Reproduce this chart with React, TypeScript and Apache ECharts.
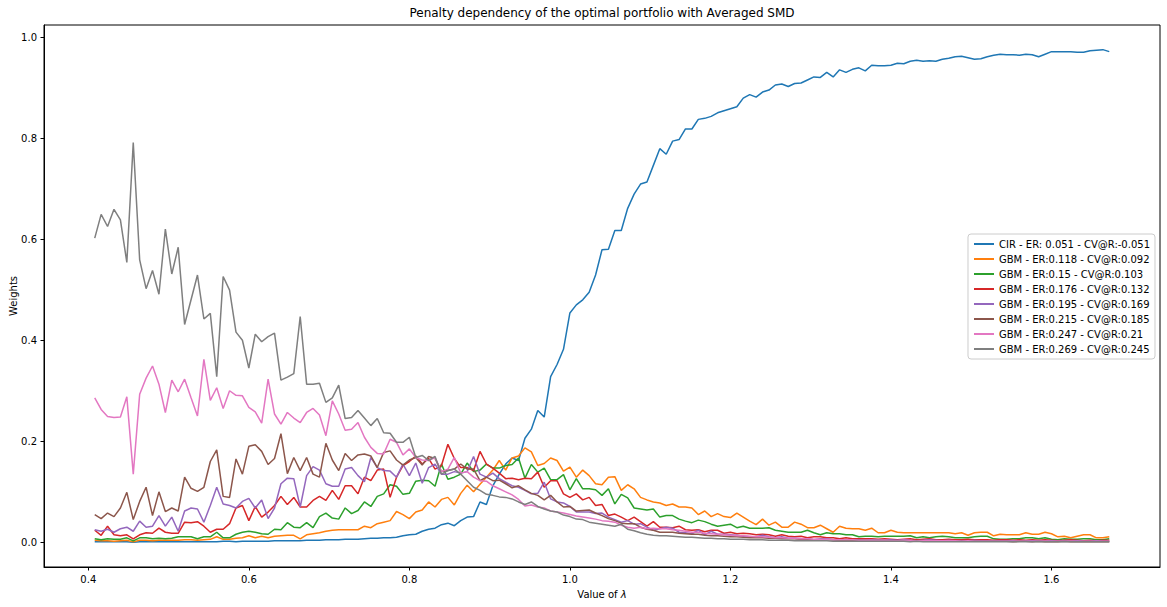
import React, { useEffect, useRef } from "react";
import * as echarts from "echarts";

// Grid of penalty values (lambda): evenly spaced from 0.408 to 1.672, step 0.008
const LAMBDA_START = 0.408;
const LAMBDA_STEP = 0.008;
const N_POINTS = 159;
const LAMBDA: number[] = Array.from({ length: N_POINTS }, (_, i) =>
  Number((LAMBDA_START + LAMBDA_STEP * i).toFixed(3))
);

const X_TICKS = [0.4, 0.6, 0.8, 1.0, 1.2, 1.4, 1.6];
const Y_TICKS = [0.0, 0.2, 0.4, 0.6, 0.8, 1.0];

const SERIES_NAMES = [
  "CIR - ER: 0.051 - CV@R:-0.051",
  "GBM - ER:0.118 - CV@R:0.092",
  "GBM - ER:0.15 - CV@R:0.103",
  "GBM - ER:0.176 - CV@R:0.132",
  "GBM - ER:0.195 - CV@R:0.169",
  "GBM - ER:0.215 - CV@R:0.185",
  "GBM - ER:0.247 - CV@R:0.21",
  "GBM - ER:0.269 - CV@R:0.245",
];

const CIR_0051 = [
  0.001, 0.001, 0.001, 0.001, 0.001, 0.001, 0.0, 0.001, 0.001, 0.001,
  0.001, 0.001, 0.001, 0.001, 0.001, 0.001, 0.001, 0.001, 0.001, 0.001,
  0.002, 0.002, 0.001, 0.002, 0.002, 0.002, 0.002, 0.002, 0.003, 0.003,
  0.003, 0.003, 0.003, 0.004, 0.004, 0.004, 0.005, 0.005, 0.005, 0.006,
  0.006, 0.006, 0.007, 0.008, 0.008, 0.009, 0.009, 0.01, 0.013, 0.015,
  0.016, 0.022, 0.026, 0.028, 0.035, 0.038, 0.033, 0.043, 0.05, 0.051,
  0.08, 0.075, 0.112, 0.135, 0.155, 0.167, 0.162, 0.206, 0.224, 0.261,
  0.248, 0.328, 0.352, 0.382, 0.454, 0.47, 0.48, 0.495, 0.529, 0.579,
  0.58, 0.617, 0.617, 0.661, 0.689, 0.709, 0.713, 0.746, 0.779, 0.768,
  0.794, 0.797, 0.818, 0.818, 0.837, 0.839, 0.843, 0.85, 0.854, 0.858,
  0.862, 0.879, 0.886, 0.881, 0.891, 0.895, 0.905, 0.907, 0.902, 0.908,
  0.909, 0.915, 0.921, 0.92, 0.93, 0.921, 0.935, 0.93, 0.936, 0.939,
  0.933, 0.944, 0.943, 0.943, 0.944, 0.948, 0.947, 0.952, 0.954, 0.952,
  0.953, 0.952, 0.956, 0.958, 0.961, 0.962, 0.959, 0.956, 0.957, 0.961,
  0.964, 0.966, 0.965, 0.965, 0.964, 0.966, 0.965, 0.961, 0.966, 0.971,
  0.971, 0.971, 0.971, 0.97, 0.97, 0.973, 0.974, 0.975, 0.971,
];

const GBM_0118 = [
  0.004, 0.003, 0.003, 0.002, 0.003, 0.004, 0.001, 0.004, 0.004, 0.003,
  0.004, 0.004, 0.004, 0.004, 0.005, 0.005, 0.004, 0.005, 0.006, 0.011,
  0.006, 0.006, 0.008, 0.009, 0.013, 0.009, 0.012, 0.009, 0.012, 0.013,
  0.014, 0.014, 0.007, 0.015, 0.017, 0.019, 0.022, 0.024, 0.025, 0.025,
  0.025, 0.025, 0.032, 0.029, 0.037, 0.04, 0.043, 0.061, 0.055, 0.047,
  0.06, 0.064, 0.08, 0.07, 0.085, 0.089, 0.074, 0.097, 0.113, 0.1,
  0.115, 0.129, 0.143, 0.162, 0.143, 0.167, 0.171, 0.187, 0.179, 0.152,
  0.156, 0.167, 0.162, 0.141, 0.149, 0.129, 0.143, 0.132, 0.116, 0.114,
  0.129, 0.13, 0.103, 0.114, 0.106, 0.089, 0.084, 0.08, 0.078, 0.073,
  0.076, 0.07, 0.07, 0.068, 0.055, 0.062, 0.051, 0.057, 0.051, 0.049,
  0.058, 0.05, 0.042, 0.035, 0.046, 0.034, 0.04, 0.03, 0.03, 0.04,
  0.036, 0.029, 0.029, 0.034, 0.027, 0.02, 0.032, 0.028, 0.027, 0.027,
  0.024, 0.028, 0.019, 0.019, 0.024, 0.02, 0.019, 0.019, 0.019, 0.019,
  0.019, 0.019, 0.019, 0.019, 0.017, 0.019, 0.014, 0.019, 0.02, 0.02,
  0.013, 0.016, 0.015, 0.015, 0.015, 0.019, 0.016, 0.016, 0.02, 0.017,
  0.011, 0.012, 0.009, 0.012, 0.015, 0.015, 0.009, 0.009, 0.011,
];

const GBM_015 = [
  0.007, 0.005, 0.007, 0.006, 0.006, 0.009, 0.003, 0.009, 0.009, 0.007,
  0.008, 0.007, 0.008, 0.011, 0.011, 0.011, 0.007, 0.011, 0.011, 0.02,
  0.009, 0.009, 0.016, 0.02, 0.022, 0.02, 0.017, 0.016, 0.026, 0.025,
  0.039, 0.03, 0.029, 0.039, 0.029, 0.051, 0.058, 0.048, 0.046, 0.068,
  0.057, 0.063, 0.08, 0.071, 0.091, 0.096, 0.114, 0.111, 0.095, 0.097,
  0.121, 0.123, 0.122, 0.111, 0.155, 0.125, 0.129, 0.135, 0.157, 0.14,
  0.143, 0.155, 0.147, 0.147, 0.152, 0.154, 0.167, 0.127, 0.154, 0.139,
  0.147, 0.124, 0.124, 0.134, 0.104, 0.126, 0.106, 0.106, 0.104, 0.093,
  0.106, 0.076, 0.095, 0.088, 0.068, 0.066, 0.064, 0.066, 0.05, 0.053,
  0.053, 0.046, 0.042, 0.039, 0.044, 0.041, 0.036, 0.032, 0.034, 0.036,
  0.029, 0.032, 0.028, 0.028, 0.028, 0.029, 0.024, 0.022, 0.02, 0.02,
  0.02, 0.024, 0.019, 0.015, 0.019, 0.017, 0.017, 0.015, 0.015, 0.011,
  0.012, 0.012, 0.011, 0.012, 0.012, 0.012, 0.012, 0.013, 0.009, 0.011,
  0.009, 0.011, 0.012, 0.011, 0.009, 0.009, 0.009, 0.011, 0.012, 0.012,
  0.007, 0.006, 0.006, 0.007, 0.007, 0.009, 0.009, 0.007, 0.009, 0.006,
  0.005, 0.007, 0.006, 0.006, 0.007, 0.007, 0.005, 0.005, 0.007,
];

const GBM_0176 = [
  0.024, 0.014, 0.032, 0.015, 0.013, 0.015, 0.007, 0.015, 0.019, 0.018,
  0.028, 0.02, 0.018, 0.018, 0.04, 0.039, 0.041, 0.032, 0.02, 0.026,
  0.026, 0.037, 0.068, 0.073, 0.043, 0.071, 0.05, 0.06, 0.073, 0.091,
  0.075, 0.089, 0.07, 0.07, 0.083, 0.091, 0.083, 0.103, 0.085, 0.112,
  0.112, 0.096, 0.129, 0.122, 0.143, 0.145, 0.089, 0.129, 0.152, 0.16,
  0.171, 0.155, 0.166, 0.145, 0.152, 0.194, 0.166, 0.148, 0.148, 0.142,
  0.18, 0.155, 0.147, 0.137, 0.126, 0.127, 0.124, 0.127, 0.126, 0.139,
  0.109, 0.122, 0.122, 0.096, 0.089, 0.096, 0.084, 0.089, 0.073, 0.075,
  0.053, 0.056, 0.05, 0.043, 0.05, 0.041, 0.032, 0.041, 0.03, 0.03,
  0.029, 0.032, 0.025, 0.024, 0.025, 0.021, 0.024, 0.024, 0.018, 0.02,
  0.017, 0.018, 0.017, 0.015, 0.016, 0.015, 0.012, 0.015, 0.012, 0.011,
  0.012, 0.009, 0.011, 0.011, 0.009, 0.009, 0.007, 0.009, 0.007, 0.007,
  0.007, 0.007, 0.006, 0.007, 0.006, 0.005, 0.006, 0.007, 0.005, 0.006,
  0.007, 0.005, 0.005, 0.006, 0.005, 0.005, 0.006, 0.005, 0.005, 0.005,
  0.004, 0.005, 0.005, 0.004, 0.005, 0.004, 0.005, 0.004, 0.005, 0.004,
  0.003, 0.004, 0.005, 0.004, 0.003, 0.004, 0.003, 0.004, 0.004,
];

const GBM_0195 = [
  0.025, 0.022, 0.026, 0.02, 0.027, 0.03, 0.022, 0.042, 0.03, 0.032,
  0.053, 0.032, 0.05, 0.022, 0.062, 0.068, 0.066, 0.04, 0.073, 0.109,
  0.076, 0.073, 0.068, 0.081, 0.087, 0.068, 0.084, 0.047, 0.068, 0.116,
  0.127, 0.126, 0.07, 0.132, 0.15, 0.143, 0.116, 0.111, 0.111, 0.145,
  0.148, 0.132, 0.12, 0.168, 0.148, 0.142, 0.141, 0.129, 0.155, 0.132,
  0.157, 0.117, 0.148, 0.155, 0.135, 0.135, 0.14, 0.137, 0.14, 0.17,
  0.135, 0.129, 0.137, 0.126, 0.119, 0.112, 0.109, 0.103, 0.096, 0.097,
  0.119, 0.086, 0.08, 0.078, 0.071, 0.06, 0.06, 0.06, 0.057, 0.058,
  0.05, 0.045, 0.04, 0.043, 0.036, 0.037, 0.03, 0.024, 0.027, 0.03,
  0.028, 0.02, 0.019, 0.017, 0.024, 0.015, 0.022, 0.016, 0.016, 0.015,
  0.014, 0.012, 0.011, 0.011, 0.014, 0.011, 0.009, 0.011, 0.008, 0.008,
  0.007, 0.007, 0.005, 0.007, 0.007, 0.005, 0.004, 0.005, 0.005, 0.005,
  0.004, 0.005, 0.005, 0.004, 0.005, 0.004, 0.005, 0.004, 0.003, 0.004,
  0.005, 0.004, 0.003, 0.004, 0.003, 0.003, 0.003, 0.004, 0.003, 0.003,
  0.003, 0.003, 0.003, 0.003, 0.002, 0.003, 0.003, 0.003, 0.002, 0.003,
  0.002, 0.003, 0.002, 0.003, 0.002, 0.002, 0.003, 0.002, 0.002,
];

const GBM_0215 = [
  0.055, 0.047, 0.058, 0.051, 0.068, 0.099, 0.045, 0.081, 0.109, 0.053,
  0.1, 0.061, 0.068, 0.062, 0.129, 0.107, 0.101, 0.109, 0.16, 0.183,
  0.091, 0.089, 0.165, 0.135, 0.19, 0.193, 0.18, 0.154, 0.166, 0.215,
  0.136, 0.168, 0.142, 0.168, 0.135, 0.129, 0.196, 0.163, 0.142, 0.176,
  0.162, 0.173, 0.175, 0.171, 0.148, 0.178, 0.181, 0.163, 0.153, 0.163,
  0.168, 0.153, 0.17, 0.166, 0.14, 0.142, 0.145, 0.155, 0.145, 0.145,
  0.122, 0.129, 0.122, 0.123, 0.116, 0.108, 0.112, 0.104, 0.097, 0.093,
  0.084, 0.093, 0.08, 0.07, 0.071, 0.062, 0.063, 0.064, 0.058, 0.053,
  0.047, 0.043, 0.038, 0.037, 0.037, 0.03, 0.026, 0.024, 0.02, 0.02,
  0.02, 0.018, 0.017, 0.016, 0.016, 0.014, 0.013, 0.013, 0.012, 0.011,
  0.011, 0.01, 0.009, 0.009, 0.009, 0.008, 0.008, 0.007, 0.007, 0.007,
  0.006, 0.006, 0.005, 0.005, 0.005, 0.005, 0.004, 0.004, 0.004, 0.004,
  0.004, 0.003, 0.004, 0.003, 0.003, 0.003, 0.003, 0.003, 0.003, 0.002,
  0.003, 0.002, 0.002, 0.003, 0.002, 0.002, 0.002, 0.002, 0.002, 0.002,
  0.002, 0.002, 0.002, 0.001, 0.002, 0.002, 0.001, 0.002, 0.001, 0.001,
  0.001, 0.002, 0.001, 0.001, 0.001, 0.001, 0.001, 0.001, 0.001,
];

const GBM_0247 = [
  0.286, 0.263, 0.249, 0.247, 0.248, 0.288, 0.135, 0.293, 0.325, 0.349,
  0.313, 0.257, 0.321, 0.298, 0.323, 0.286, 0.25, 0.362, 0.281, 0.306,
  0.265, 0.3, 0.291, 0.29, 0.267, 0.258, 0.236, 0.323, 0.254, 0.234,
  0.257, 0.246, 0.237, 0.257, 0.265, 0.252, 0.211, 0.28, 0.254, 0.222,
  0.224, 0.237, 0.208, 0.188, 0.176, 0.175, 0.204, 0.198, 0.173, 0.185,
  0.168, 0.163, 0.162, 0.168, 0.14, 0.145, 0.168, 0.137, 0.14, 0.129,
  0.122, 0.121, 0.112, 0.106, 0.1, 0.094, 0.085, 0.072, 0.074, 0.07,
  0.068, 0.062, 0.06, 0.058, 0.055, 0.052, 0.05, 0.048, 0.046, 0.043,
  0.042, 0.04, 0.034, 0.03, 0.028, 0.03, 0.027, 0.028, 0.027, 0.027,
  0.025, 0.024, 0.022, 0.02, 0.02, 0.018, 0.017, 0.016, 0.015, 0.014,
  0.013, 0.013, 0.012, 0.011, 0.011, 0.01, 0.009, 0.009, 0.008, 0.008,
  0.007, 0.007, 0.006, 0.006, 0.006, 0.005, 0.005, 0.005, 0.005, 0.004,
  0.004, 0.004, 0.004, 0.004, 0.003, 0.003, 0.004, 0.003, 0.003, 0.003,
  0.003, 0.003, 0.003, 0.003, 0.003, 0.002, 0.003, 0.002, 0.002, 0.002,
  0.002, 0.002, 0.002, 0.002, 0.002, 0.002, 0.002, 0.002, 0.002, 0.002,
  0.002, 0.002, 0.002, 0.002, 0.002, 0.002, 0.002, 0.002, 0.002,
];

const GBM_0269 = [
  0.602, 0.649, 0.625, 0.659, 0.638, 0.554, 0.791, 0.559, 0.502, 0.538,
  0.491, 0.62, 0.531, 0.584, 0.431, 0.48, 0.529, 0.442, 0.453, 0.328,
  0.526, 0.499, 0.416, 0.4, 0.345, 0.412, 0.397, 0.407, 0.414, 0.321,
  0.327, 0.334, 0.447, 0.313, 0.313, 0.315, 0.277, 0.286, 0.311, 0.245,
  0.247, 0.261, 0.246, 0.231, 0.245, 0.217, 0.216, 0.198, 0.198, 0.208,
  0.168, 0.172, 0.162, 0.17, 0.135, 0.142, 0.145, 0.135, 0.122, 0.109,
  0.103, 0.095, 0.093, 0.09, 0.089, 0.086, 0.08, 0.075, 0.08, 0.071,
  0.066, 0.062, 0.06, 0.054, 0.051, 0.046, 0.045, 0.04, 0.038, 0.036,
  0.034, 0.032, 0.036, 0.026, 0.023, 0.019, 0.016, 0.014, 0.013, 0.013,
  0.012, 0.011, 0.01, 0.01, 0.009, 0.008, 0.008, 0.007, 0.007, 0.006,
  0.006, 0.006, 0.005, 0.005, 0.005, 0.004, 0.004, 0.004, 0.004, 0.003,
  0.003, 0.003, 0.003, 0.003, 0.003, 0.002, 0.002, 0.002, 0.002, 0.002,
  0.002, 0.002, 0.002, 0.002, 0.002, 0.002, 0.002, 0.001, 0.002, 0.001,
  0.001, 0.001, 0.001, 0.001, 0.001, 0.001, 0.001, 0.001, 0.001, 0.001,
  0.001, 0.001, 0.001, 0.001, 0.001, 0.001, 0.001, 0.001, 0.001, 0.001,
  0.001, 0.001, 0.001, 0.001, 0.001, 0.001, 0.001, 0.001, 0.001,
];

const SERIES_VALUES = [
  CIR_0051,
  GBM_0118,
  GBM_015,
  GBM_0176,
  GBM_0195,
  GBM_0215,
  GBM_0247,
  GBM_0269,
];

const COLORS = [
  "#1f77b4",
  "#ff7f0e",
  "#2ca02c",
  "#d62728",
  "#9467bd",
  "#8c564b",
  "#e377c2",
  "#7f7f7f",
];

const FONT = "DejaVu Sans";

export default function App() {
  const ref = useRef<HTMLDivElement>(null);

  useEffect(() => {
    if (!ref.current) return;
    const chart = echarts.init(ref.current, undefined, { renderer: "svg" });

    const allY = SERIES_VALUES.flat();
    const xMinD = LAMBDA[0];
    const xMaxD = LAMBDA[LAMBDA.length - 1];
    const yMinD = Math.min(...allY);
    const yMaxD = Math.max(...allY);
    const xPad = (xMaxD - xMinD) * 0.05;
    const yPad = (yMaxD - yMinD) * 0.05;

    const axisCommon = {
      axisLine: { show: true, onZero: false, lineStyle: { color: "#000", width: 1 } },
      axisTick: { show: true, inside: false, length: 3.5, lineStyle: { color: "#000", width: 1 } },
      splitLine: { show: false },
      nameMoveOverlap: false,
      nameTextStyle: { fontFamily: FONT, fontSize: 10, color: "#000" },
    };

    chart.setOption({
      animation: false,
      backgroundColor: "#ffffff",
      color: COLORS,
      grid: {
        left: 44,
        right: 7,
        top: 25,
        bottom: 40,
        containLabel: false,
        outerBoundsMode: "none",
        show: true,
        borderColor: "#000",
        borderWidth: 1,
        backgroundColor: "transparent",
      },
      graphic: [
        {
          type: "text",
          x: 602,
          y: 13,
          style: {
            text: "Penalty dependency of the optimal portfolio with Averaged SMD",
            fontFamily: FONT,
            fontSize: 12,
            fill: "#000",
            textAlign: "center",
            textVerticalAlign: "middle",
          },
        },
      ],
      legend: {
        orient: "vertical",
        right: 12,
        top: 234,
        padding: [4, 5, 4, 6],
        itemGap: 3,
        itemWidth: 20,
        itemHeight: 2,
        icon: "rect",
        borderColor: "#cccccc",
        borderWidth: 1,
        borderRadius: 3,
        backgroundColor: "rgba(255,255,255,0.8)",
        textStyle: { fontFamily: FONT, fontSize: 10, color: "#000", lineHeight: 12 },
        data: SERIES_NAMES,
      },
      xAxis: {
        type: "value",
        min: xMinD - xPad,
        max: xMaxD + xPad,
        name: "Value of {it|λ}",
        nameLocation: "middle",
        nameGap: 22,
        ...axisCommon,
        nameTextStyle: {
          fontFamily: FONT,
          fontSize: 10,
          color: "#000",
          rich: { it: { fontFamily: FONT, fontSize: 10, fontStyle: "italic", color: "#000" } },
        },
        axisTick: { ...axisCommon.axisTick, customValues: X_TICKS },
        axisLabel: {
          customValues: X_TICKS,
          formatter: (v: number) => v.toFixed(1),
          fontFamily: FONT,
          fontSize: 10,
          color: "#000",
          margin: 7,
        },
      },
      yAxis: {
        type: "value",
        min: yMinD - yPad,
        max: yMaxD + yPad,
        name: "Weights",
        nameLocation: "middle",
        nameGap: 26,
        nameRotate: 90,
        ...axisCommon,
        axisTick: { ...axisCommon.axisTick, customValues: Y_TICKS },
        axisLabel: {
          customValues: Y_TICKS,
          formatter: (v: number) => v.toFixed(1),
          fontFamily: FONT,
          fontSize: 10,
          color: "#000",
          margin: 7,
        },
      },
      series: SERIES_NAMES.map((name, k) => ({
        name,
        type: "line",
        showSymbol: false,
        symbol: "none",
        lineStyle: { width: 1.5, color: COLORS[k] },
        itemStyle: { color: COLORS[k] },
        emphasis: { disabled: true },
        data: LAMBDA.map((x, i) => [x, SERIES_VALUES[k][i]]),
      })),
    });

    return () => chart.dispose();
  }, []);

  return (
    <div
      ref={ref}
      style={{ position: "absolute", left: 0, top: 0, width: 1167, height: 607, background: "#fff" }}
    />
  );
}
